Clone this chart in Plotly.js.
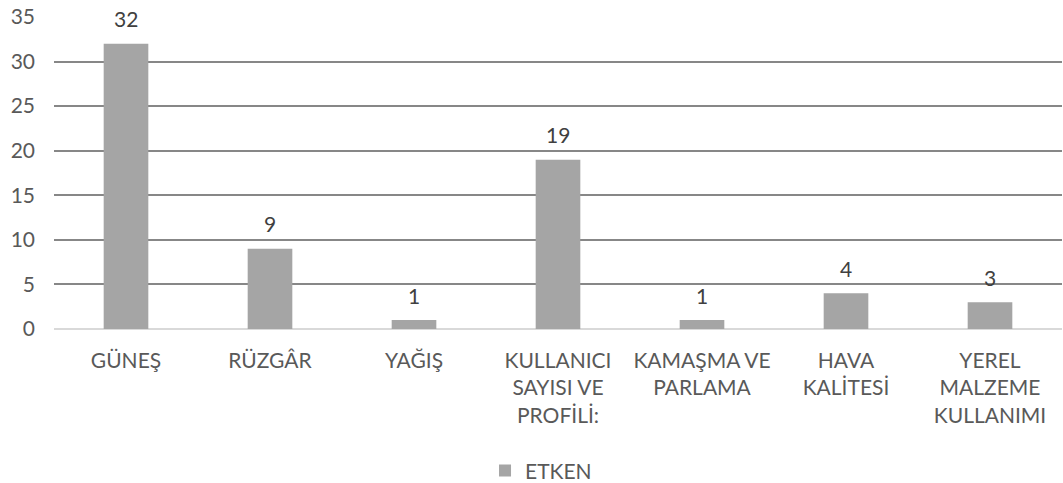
<!DOCTYPE html>
<html><head><meta charset="utf-8">
<script src="https://cdn.plot.ly/plotly-3.0.1.min.js"></script>
<style>html,body{margin:0;padding:0;background:#fff}#c{width:1063px;height:483px}</style>
</head><body><div id="c"></div>
<script>
const categories = ["GÜNEŞ", "RÜZGÂR", "YAĞIŞ", "KULLANICI<br>SAYISI VE<br>PROFİLİ:", "KAMAŞMA VE<br>PARLAMA", "HAVA<br>KALİTESİ", "YEREL<br>MALZEME<br>KULLANIMI"];
const values = [32, 9, 1, 19, 1, 4, 3];
const seriesName = "ETKEN";
const yTicks = [0, 5, 10, 15, 20, 25, 30, 35];

const font = "Lato, 'Open Sans', sans-serif";
const annotations = values.map((v, i) => ({
  x: categories[i], y: v, xref: "x", yref: "y", text: String(v),
  showarrow: false, yanchor: "middle", yshift: 25,
  font: {family: font, size: 21, color: "#404040"}
}));

Plotly.newPlot("c", [{
  type: "bar",
  x: categories,
  y: values,
  name: seriesName,
  marker: {color: "#a5a5a5"}
}], {
  width: 1063, height: 483,
  margin: {l: 54, r: 1, t: 17, b: 154},
  paper_bgcolor: "#fff", plot_bgcolor: "#fff",
  bargap: 0.69,
  showlegend: true,
  annotations: annotations,
  legend: {orientation: "h", x: 0.4276, xanchor: "left", xref: "paper",
           y: 0.025, yanchor: "middle", yref: "container",
           itemwidth: 30,
           font: {family: font, size: 21, color: "#595959"}},
  xaxis: {tickfont: {family: font, size: 21, color: "#595959"}, showgrid: false,
          showline: false, ticks: "", ticklabelstandoff: 17, automargin: false},
  yaxis: {range: [0, 35], tickvals: yTicks, showgrid: true, gridcolor: "#878787", gridwidth: 2,
          zeroline: true, zerolinecolor: "#d9d9d9", zerolinewidth: 2,
          tickfont: {family: font, size: 21, color: "#595959"}, ticks: "", ticklabelstandoff: 18,
          automargin: false}
}, {displayModeBar: false, staticPlot: true});
</script></body></html>
